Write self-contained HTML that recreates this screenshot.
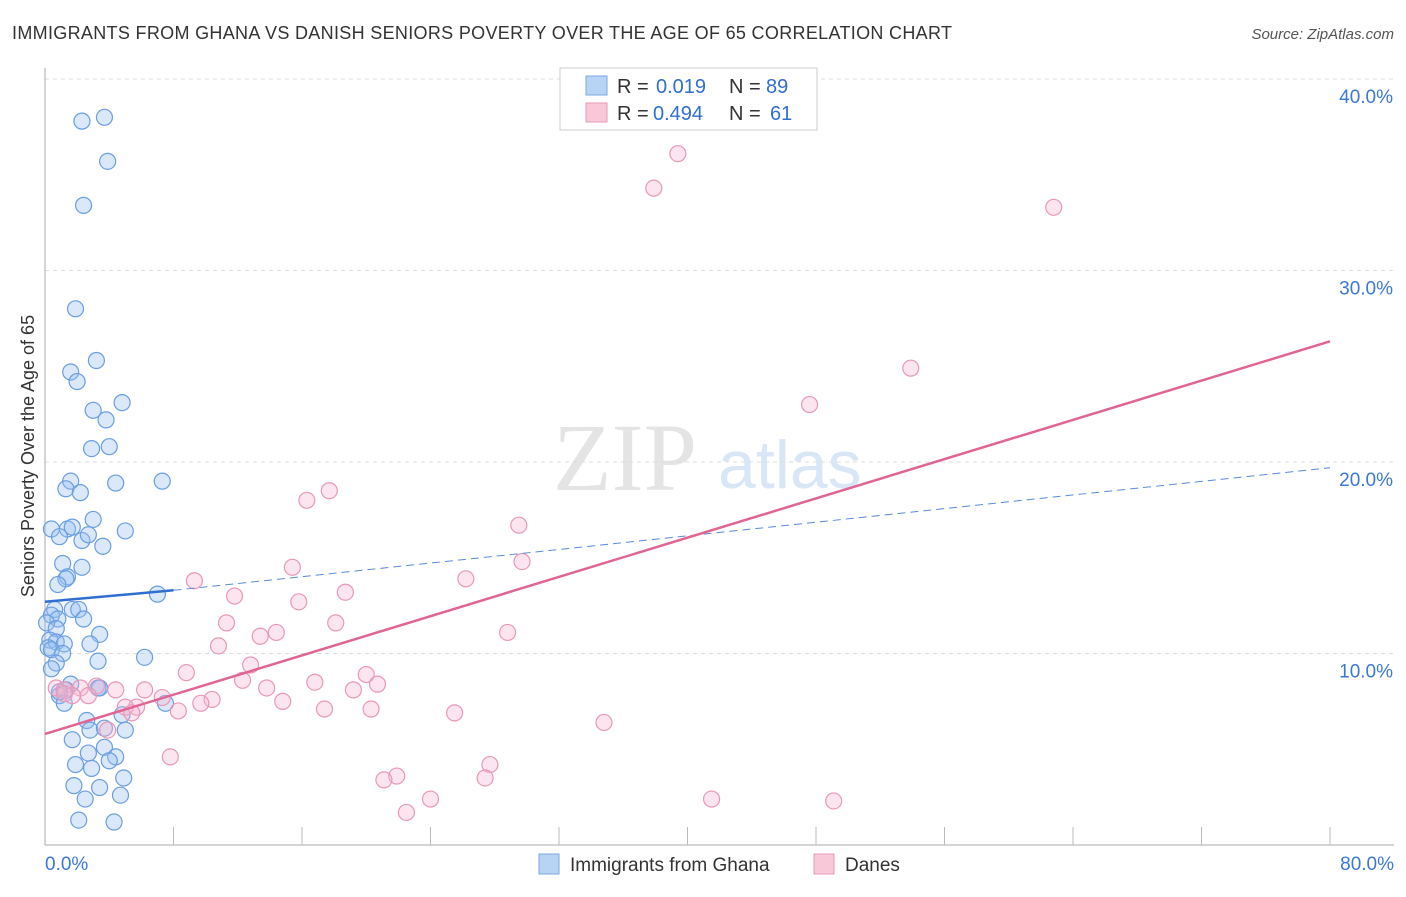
<!DOCTYPE html>
<html><head><meta charset="utf-8">
<style>
body{margin:0;background:#fff;font-family:"Liberation Sans",sans-serif;}
svg text{font-family:"Liberation Sans",sans-serif;}
</style></head>
<body>
<svg id="chart" width="1406" height="892" viewBox="0 0 1406 892" xmlns="http://www.w3.org/2000/svg">
<text x="12" y="39" font-size="18" fill="#333" textLength="940">IMMIGRANTS FROM GHANA VS DANISH SENIORS POVERTY OVER THE AGE OF 65 CORRELATION CHART</text>
<text x="1394" y="39" font-size="15" fill="#555" font-style="italic" text-anchor="end">Source: ZipAtlas.com</text>
<text x="34" y="456" font-size="18" fill="#333" text-anchor="middle" transform="rotate(-90 34 456)">Seniors Poverty Over the Age of 65</text>
<text x="553" y="490" font-size="96" fill="#e4e4e4" font-family="Liberation Serif" style="font-family:'Liberation Serif',serif">ZIP</text>
<text x="718" y="488" font-size="68" fill="#d8e6f6">atlas</text>
<g id="grid"></g><g id="axes"></g><g id="pts"></g><g id="lines"></g>
<g>
<rect x="560" y="68" width="257" height="62" fill="#fff" stroke="#ccc"/>
<rect x="586" y="76" width="21" height="19" fill="#b8d4f4" stroke="#7aa8e0"/>
<text x="617" y="93" font-size="20" fill="#333">R =</text><text x="656" y="93" font-size="20" fill="#2f6fd0">0.019</text>
<text x="729" y="93" font-size="20" fill="#333">N =</text><text x="766" y="93" font-size="20" fill="#2f6fd0">89</text>
<rect x="586" y="103" width="21" height="19" fill="#f8c8d8" stroke="#e898b4"/>
<text x="617" y="120" font-size="20" fill="#333">R =</text><text x="653" y="120" font-size="20" fill="#2f6fd0">0.494</text>
<text x="729" y="120" font-size="20" fill="#333">N =</text><text x="770" y="120" font-size="20" fill="#2f6fd0">61</text>
</g>
<g>
<rect x="539" y="854" width="20" height="20" fill="#b8d4f4" stroke="#7aa8e0"/>
<text x="570" y="871" font-size="19" fill="#333">Immigrants from Ghana</text>
<rect x="814" y="854" width="20" height="20" fill="#f8c8d8" stroke="#e898b4"/>
<text x="845" y="871" font-size="19" fill="#333">Danes</text>
</g>
</svg>
<script>
const yTicks=[10,20,30,40];
const xTickLabels=["0.0%","80.0%"];
const ghanaX=[2.3,3.7,3.9,2.4,1.9,3.2,1.6,2.0,3.0,4.8,3.8,2.9,4.0,4.4,7.3,1.6,1.3,2.2,3.0,0.4,1.4,1.7,0.9,2.3,2.7,5.0,3.6,1.1,2.3,1.4,1.3,0.8,7.0,0.6,1.7,2.1,0.4,0.8,2.4,0.1,0.7,3.4,0.3,0.7,2.8,1.2,0.2,0.4,1.1,6.2,3.3,0.7,0.4,1.6,1.3,3.3,3.4,0.9,1.2,7.5,4.8,2.6,2.8,5.0,1.7,3.7,4.4,2.7,4.0,1.9,2.9,4.9,1.8,3.4,2.5,4.7,2.1,4.3,3.7,0.9];
const ghanaY=[37.8,38.0,35.7,33.4,28.0,25.3,24.7,24.2,22.7,23.1,22.2,20.7,20.8,18.9,19.0,19.0,18.6,18.4,17.0,16.5,16.5,16.6,16.1,15.9,16.2,16.4,15.6,14.7,14.5,14.0,13.9,13.6,13.1,12.3,12.3,12.3,12.0,11.8,11.8,11.6,11.3,11.0,10.7,10.6,10.5,10.5,10.3,10.2,10.0,9.8,9.6,9.5,9.2,8.4,8.1,8.2,8.2,7.8,7.4,7.4,6.8,6.5,6.0,6.0,5.5,5.1,4.6,4.8,4.4,4.2,4.0,3.5,3.1,3.0,2.4,2.6,1.3,1.2,6.1,8.0];
const danesX=[39.4,37.9,62.8,53.9,47.6,17.7,16.3,29.5,29.7,15.4,9.3,26.2,11.8,18.7,15.8,11.3,18.1,14.4,13.4,28.8,10.8,12.8,8.8,20.0,12.3,16.8,19.2,20.7,13.8,6.2,0.7,1.2,2.2,3.2,4.4,7.3,10.4,9.7,14.8,17.4,20.3,25.5,5.7,5.0,8.3,2.7,1.7,5.4,34.8,3.9,7.8,27.7,21.9,21.1,27.4,24.0,41.5,49.1,22.5,1.2];
const danesY=[36.1,34.3,33.3,24.9,23.0,18.5,18.0,16.7,14.8,14.5,13.8,13.9,13.0,13.2,12.7,11.6,11.6,11.1,10.9,11.1,10.4,9.4,9.0,8.9,8.6,8.5,8.1,8.4,8.2,8.1,8.2,8.1,8.2,8.3,8.1,7.7,7.6,7.4,7.5,7.1,7.1,6.9,7.2,7.2,7.0,7.8,7.8,6.9,6.4,6.0,4.6,4.2,3.6,3.4,3.5,2.4,2.4,2.3,1.7,7.9];
const ghanaTrendX=[0,8,80]; const ghanaTrendY=[12.7,13.3,19.7];
const danesTrendX=[0,80]; const danesTrendY=[5.8,26.3];
const X0=45,X1=1330,Y0=845,PX=(X1-X0)/80,PY=19.15;
const sx=v=>X0+v*PX, sy=v=>Y0-v*PY;
const NS="http://www.w3.org/2000/svg";
function mk(parent,tag,attrs){const e=document.createElementNS(NS,tag);for(const k in attrs)e.setAttribute(k,attrs[k]);document.getElementById(parent).appendChild(e);return e;}
yTicks.forEach(t=>{
 const l=mk('grid','line',{x1:X0,x2:1394,y1:sy(t),y2:sy(t),stroke:'#ddd','stroke-dasharray':'4,4'});
 
 
 const tx=mk('grid','text',{x:1393,y:sy(t)+24,'font-size':19,fill:'#3b78d8','text-anchor':'end'});
 tx.textContent=t.toFixed(1)+'%';
 
 
});
const topLine=mk('grid','line',{x1:X0,x2:1394,y1:79,y2:79,stroke:'#ddd','stroke-dasharray':'4,4'});


const ax=mk('axes','line',{x1:X0,x2:1394,y1:Y0,y2:Y0,stroke:'#aaa'});


const ay=mk('axes','line',{x1:X0,x2:X0,y1:68,y2:Y0,stroke:'#aaa'});


for(let i=1;i<=10;i++){const t=mk('axes','line',{x1:sx(i*8),x2:sx(i*8),y1:Y0,y2:Y0-18,stroke:'#bbb'});
 
 }
[[0,'start',X0],[80,'end',1394]].forEach((d,i)=>{const t=mk('axes','text',{x:d[2],y:870,'font-size':19,fill:'#3b78d8','text-anchor':d[1]});t.textContent=xTickLabels[i];
 
 });
ghanaX.forEach((x,i)=>{const c=mk('pts','circle',{cx:sx(x),cy:sy(ghanaY[i]),r:8,fill:'rgba(150,190,240,0.35)',stroke:'#6a9ee0','stroke-width':1.2});
 
 });
danesX.forEach((x,i)=>{const c=mk('pts','circle',{cx:sx(x),cy:sy(danesY[i]),r:8,fill:'rgba(245,180,205,0.35)',stroke:'#e898b8','stroke-width':1.2});
 
 });
const g1=mk('lines','line',{x1:sx(ghanaTrendX[0]),y1:sy(ghanaTrendY[0]),x2:sx(ghanaTrendX[1]),y2:sy(ghanaTrendY[1]),stroke:'#2f6fd0','stroke-width':2.5});


const g2=mk('lines','line',{x1:sx(ghanaTrendX[1]),y1:sy(ghanaTrendY[1]),x2:sx(ghanaTrendX[2]),y2:sy(ghanaTrendY[2]),stroke:'#5a8ad8','stroke-width':1,'stroke-dasharray':'8,5'});


const d1=mk('lines','line',{x1:sx(danesTrendX[0]),y1:sy(danesTrendY[0]),x2:sx(danesTrendX[1]),y2:sy(danesTrendY[1]),stroke:'#e06494','stroke-width':2.5});


</script>
</body></html>
